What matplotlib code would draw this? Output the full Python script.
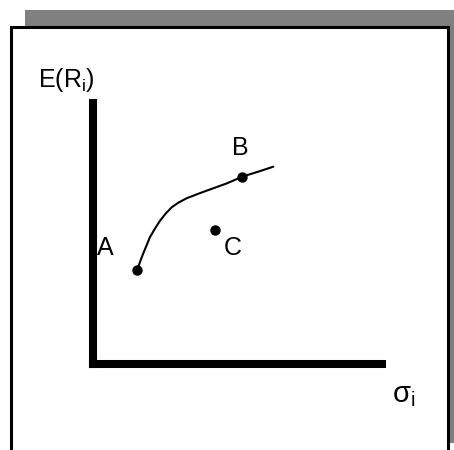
import matplotlib
matplotlib.use("Agg")
import matplotlib.pyplot as plt
from matplotlib.patches import Rectangle

plt.rcParams['font.family'] = ['Liberation Sans', 'DejaVu Sans']
plt.rcParams['mathtext.fontset'] = 'custom'
plt.rcParams['mathtext.rm'] = 'Liberation Sans'
plt.rcParams['mathtext.it'] = 'Liberation Sans'
plt.rcParams['mathtext.default'] = 'regular'

# ---- data (schematic units: sigma on x, expected return on y) ----
frontier_sigma = [1.53, 1.63, 1.74, 1.86, 1.97, 2.15, 2.32, 2.52, 2.72,
                  2.95, 3.24, 3.59, 3.93, 4.28, 4.63, 5.17, 5.72, 6.24]
frontier_ret = [3.60, 3.92, 4.24, 4.56, 4.86, 5.20, 5.49, 5.77, 6.00,
                6.18, 6.35, 6.50, 6.64, 6.78, 6.92, 7.18, 7.37, 7.56]
point_labels = ['A', 'B', 'C']
point_sigma = [1.53, 5.17, 4.22]
point_ret = [3.60, 7.18, 5.13]
x_label = r'$\sigma_i$'
y_label = r'E(R$_i$)'

W, H = 454, 450
fig = plt.figure(figsize=(W / 100, H / 100), dpi=100)

# background: shadow + framed box (figure pixel coords)
bg = fig.add_axes([0, 0, 1, 1])
bg.set_xlim(0, W)
bg.set_ylim(H, 0)
bg.axis('off')
bg.add_patch(Rectangle((25, 10), 460, 433, facecolor='#808080', edgecolor='none'))
bg.add_patch(Rectangle((10.5, 26.5), 437, 440, facecolor='white',
                       edgecolor='black', linewidth=2.2))

# chart axes: origin at the corner of the thick axis lines
left_px, right_px, top_px, bottom_px = 93, 382, 103, 364
ax = fig.add_axes([left_px / W, (H - bottom_px) / H,
                   (right_px - left_px) / W, (bottom_px - top_px) / H])
ax.set_xlim(0, 10)
ax.set_ylim(0, 10)
ax.patch.set_visible(False)
for s in ['top', 'right']:
    ax.spines[s].set_visible(False)
for s in ['left', 'bottom']:
    ax.spines[s].set_linewidth(5.8)
    ax.spines[s].set_capstyle('projecting')
ax.set_xticks([])
ax.set_yticks([])

ax.plot(frontier_sigma, frontier_ret, color='black', linewidth=1.5,
        solid_capstyle='round', solid_joinstyle='round', clip_on=False)
ax.plot(point_sigma, point_ret, 'o', color='black', markersize=6.5, clip_on=False)

fs = 18
label_offsets = {'A': (0.43, 4.44), 'B': (5.09, 8.28), 'C': (4.83, 4.44)}
for lab in point_labels:
    x, y = label_offsets[lab]
    ax.text(x, y, lab, fontsize=fs, ha='center', va='center', clip_on=False)

ax.text(-1.90, 10.88, y_label, fontsize=fs, ha='left', va='center', clip_on=False)
ax.text(10.76, -1.19, x_label, fontsize=21, ha='center', va='center', clip_on=False)

fig.savefig('out.png', dpi=100)
